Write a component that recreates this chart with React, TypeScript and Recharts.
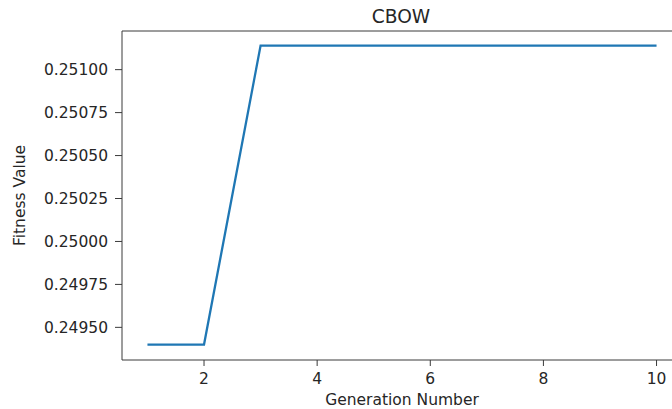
import { LineChart, Line, XAxis, YAxis, Label, ReferenceLine } from "recharts";

const generations = [1, 2, 3, 4, 5, 6, 7, 8, 9, 10];
const fitness = [0.2494, 0.2494, 0.25114, 0.25114, 0.25114, 0.25114, 0.25114, 0.25114, 0.25114, 0.25114];
const xTicks = [2, 4, 6, 8, 10];
const yTicks = [0.2495, 0.24975, 0.25, 0.25025, 0.2505, 0.25075, 0.251];
const yDomain: [number, number] = [0.24931, 0.251225];

const data = generations.map((g, i) => ({ gen: g, value: fitness[i] }));

const font = "'DejaVu Sans', sans-serif";
const ink = "#262626";
const spine = "#3a3a3a";

export default function App() {
  return (
    <div style={{ position: "absolute", left: 0, top: 0, width: 672, height: 409, overflow: "hidden", background: "#fff" }}>
      <LineChart width={700} height={409} data={data} margin={{ top: 31, right: 18, left: 0, bottom: 0 }}>
        <XAxis
          dataKey="gen"
          type="number"
          domain={[0.55, 10.45]}
          ticks={xTicks}
          height={49}
          tickSize={6}
          tickMargin={7}
          stroke={spine}
          tick={{ fontSize: 15.5, fontFamily: font, fill: ink }}
        >
          <Label
            content={() => (
              <g fontFamily={font} fill={ink}>
                <text x={402} y={404.5} textAnchor="middle" fontSize={15.5}>
                  Generation Number
                </text>
                <text x={401} y={22.5} textAnchor="middle" fontSize={18.6}>
                  CBOW
                </text>
              </g>
            )}
          />
        </XAxis>
        <YAxis
          type="number"
          domain={yDomain}
          ticks={yTicks}
          width={122}
          tickSize={7}
          tickMargin={7}
          stroke={spine}
          tickFormatter={(v: number) => v.toFixed(5)}
          tick={{ fontSize: 15.5, fontFamily: font, fill: ink }}
        >
          <Label
            content={() => (
              <text
                x={25}
                y={195.5}
                transform="rotate(-90, 25, 195.5)"
                textAnchor="middle"
                fontSize={15.5}
                fontFamily={font}
                fill={ink}
              >
                Fitness Value
              </text>
            )}
          />
        </YAxis>
        <ReferenceLine y={yDomain[1]} stroke={spine} strokeWidth={1} ifOverflow="extendDomain" />
        <Line
          type="linear"
          dataKey="value"
          stroke="#1f77b4"
          strokeWidth={2.3}
          dot={false}
          isAnimationActive={false}
        />
      </LineChart>
    </div>
  );
}
